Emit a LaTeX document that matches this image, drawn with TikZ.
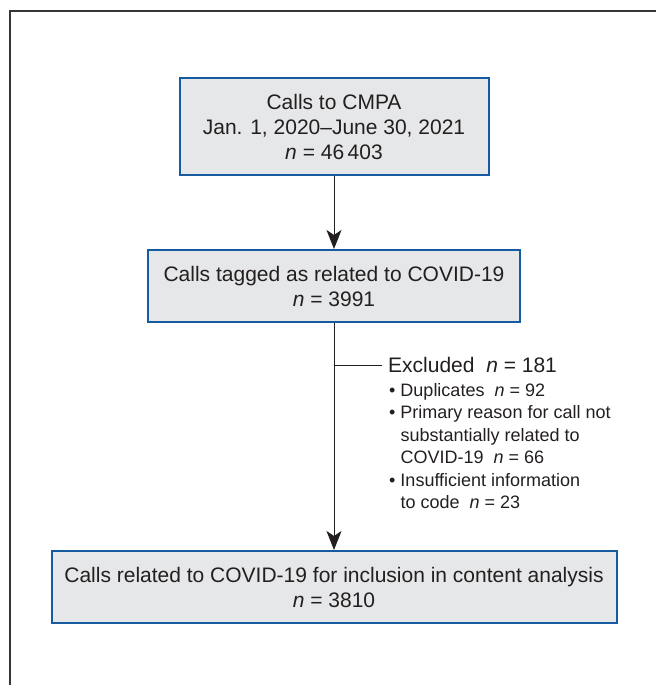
\documentclass[tikz,border=0pt]{standalone}
\usepackage{fontspec}
\setmainfont{Liberation Sans}
\usetikzlibrary{arrows.meta}
\definecolor{boxfill}{RGB}{230,231,232}
\definecolor{boxline}{RGB}{22,90,160}
\definecolor{ink}{RGB}{35,31,32}
\tikzset{
  flowbox/.style={draw=boxline, line width=2pt, fill=boxfill, text=ink, align=center,
    inner sep=0pt, font=\fontsize{21}{25}\selectfont},
  conn/.style={draw=ink, line width=1pt},
  arr/.style={conn, -{Stealth[length=19pt,width=15pt,inset=5pt]}},
  small/.style={text=ink, align=left, inner sep=0pt, font=\fontsize{18}{22.5}\selectfont},
}
\begin{document}
\begin{tikzpicture}[x=1pt,y=-1pt]
\useasboundingbox (0,0) rectangle (656,685);
\draw[line width=2pt, draw=ink!90] (10,685) -- (10,11) -- (656,11);
\node[flowbox, minimum width=309pt, minimum height=97pt] (b1) at (334,126.5)
  {Calls to CMPA\\Jan. 1, 2020--June 30, 2021\\\textit{n} = 46\,403};
\node[flowbox, minimum width=372pt, minimum height=72pt] (b2) at (334,286)
  {Calls tagged as related to COVID-19\\\textit{n} = 3991};
\node[flowbox, minimum width=565pt, minimum height=72pt] (b3) at (334,587)
  {Calls related to COVID-19 for inclusion in content analysis\\\textit{n} = 3810};
\draw[arr] (b1.south) -- (b2.north);
\draw[arr] (b2.south) -- (b3.north);
\coordinate (j) at (334,365);
\node[text=ink, inner sep=0pt, anchor=west, font=\fontsize{21}{25}\selectfont] (ex) at (388,365)
  {Excluded\ \ \textit{n} = 181};
\draw[conn] (j) -- (382,365) coordinate (je);
\node[small, anchor=north west] (list) at (389,383)
  {\textbullet\ Duplicates\ \ \textit{n} = 92\\
   \textbullet\ Primary reason for call not\\
   \phantom{\textbullet\ }substantially related to\\
   \phantom{\textbullet\ }COVID-19\ \ \textit{n} = 66\\
   \textbullet\ Insufficient information\\
   \phantom{\textbullet\ }to code\ \ \textit{n} = 23};
\end{tikzpicture}
\end{document}
